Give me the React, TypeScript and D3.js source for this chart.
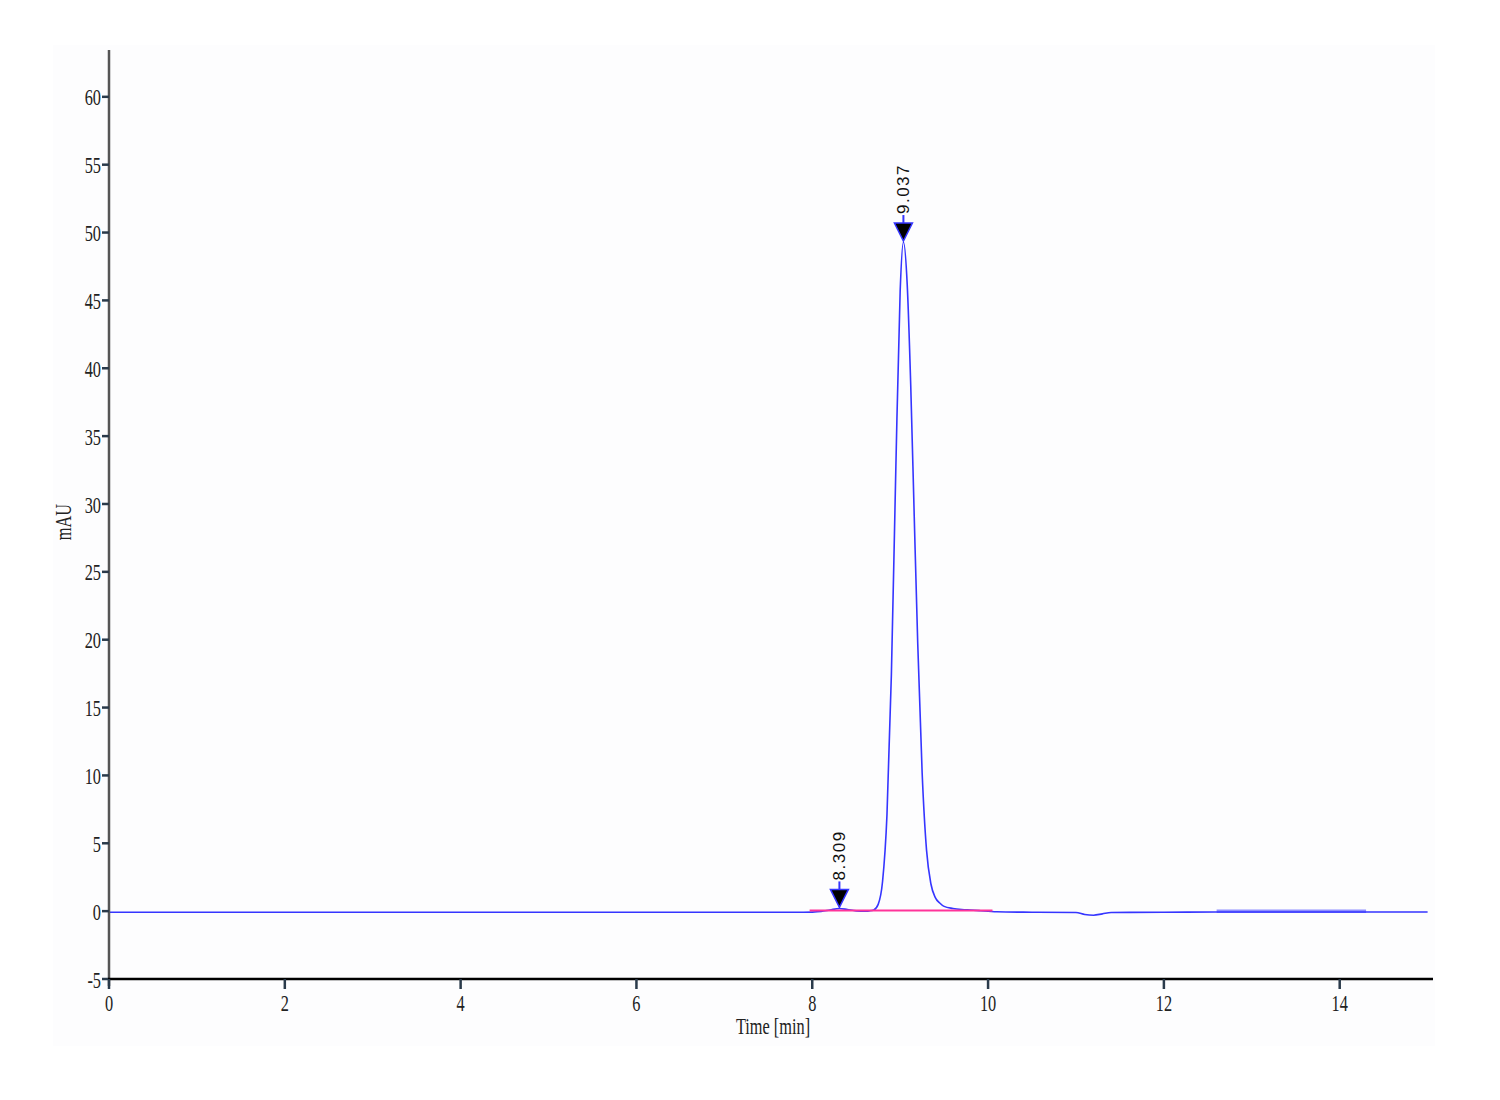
import React from "react";
import * as d3 from "d3";

const timeMin = [0, 2, 4, 6, 7.9, 8.0, 8.1, 8.2, 8.309, 8.4, 8.5, 8.6, 8.65, 8.7, 8.75, 8.8, 8.85, 8.9, 8.95, 9.0, 9.037, 9.08, 9.12, 9.16, 9.2, 9.25, 9.3, 9.35, 9.4, 9.45, 9.5, 9.6, 9.7, 9.8, 9.9, 10.0, 10.1, 10.5, 11.0, 11.1, 11.2, 11.3, 11.4, 12.0, 12.6, 15.0];
const signalMAU = [-0.08, -0.08, -0.08, -0.08, -0.08, -0.07, -0.03, 0.08, 0.2, 0.12, 0.02, 0.0, 0.02, 0.09, 0.5, 2.2, 7.1, 17.4, 32.4, 45.7, 49.3, 46.2, 38.8, 29.1, 19.7, 10.2, 4.5, 2.0, 1.0, 0.6, 0.35, 0.2, 0.12, 0.08, 0.04, 0.0, -0.05, -0.08, -0.1, -0.25, -0.3, -0.2, -0.1, -0.08, -0.06, -0.06];

const peakTimes = [8.309, 9.037];
const peakHeights = [0.2, 49.3];
const peakLabels = ["8.309", "9.037"];

const baselineTimes = [7.97, 10.05];
const baselineValues = [0.05, 0.05];

const noiseTimes = [12.6, 14.3];
const noiseValues = [0.0, 0.0];

const xTicks = [0, 2, 4, 6, 8, 10, 12, 14];
const yTicks = [-5, 0, 5, 10, 15, 20, 25, 30, 35, 40, 45, 50, 55, 60];

const serif = "'Liberation Serif', 'DejaVu Serif', serif";
const sans = "'Liberation Sans', 'DejaVu Sans', sans-serif";
const SX = 0.68;

export default function App() {
  const x = d3.scaleLinear().domain([0, 15.05]).range([109, 1432]);
  const y = d3.scaleLinear().domain([-5, 63.45]).range([979, 50]);

  const pts: [number, number][] = timeMin.map((t, i) => [t, signalMAU[i]]);
  const line = d3
    .line<[number, number]>()
    .x((d) => x(d[0]))
    .y((d) => y(d[1]))
    .curve(d3.curveMonotoneX);

  const basePts: [number, number][] = baselineTimes.map((t, i) => [t, baselineValues[i]]);
  const noisePts: [number, number][] = noiseTimes.map((t, i) => [t, noiseValues[i]]);
  const straight = d3
    .line<[number, number]>()
    .x((d) => x(d[0]))
    .y((d) => y(d[1]));

  const axisY = y(-5);

  return (
    <svg
      width={1500}
      height={1100}
      style={{ position: "absolute", left: 0, top: 0, display: "block", background: "#ffffff" }}
    >
      <rect x={53} y={45} width={1382} height={1001} fill="#fdfdfe" />

      {/* signal */}
      <path d={straight(noisePts) || ""} fill="none" stroke="#8f8fff" strokeWidth={3.5} />
      <path d={line(pts) || ""} fill="none" stroke="#3535ff" strokeWidth={1.6} />
      <path d={straight(basePts) || ""} fill="none" stroke="#ff3399" strokeWidth={2} />

      {/* peak markers */}
      {peakTimes.map((t, i) => {
        const px = x(t);
        const tip = y(peakHeights[i]) - 1;
        const top = tip - 18;
        return (
          <g key={i}>
            <line x1={px} x2={px} y1={top} y2={top - 8} stroke="#3535ff" strokeWidth={2} />
            <path
              d={`M${px - 9},${top} L${px + 9},${top} L${px},${tip} Z`}
              fill="#000"
              stroke="#3535ff"
              strokeWidth={1.5}
            />
            <text
              transform={`translate(${px + 6},${top - 9}) rotate(-90)`}
              fontFamily={sans}
              fontSize={17}
              letterSpacing={1.5}
              fill="#111"
            >
              {peakLabels[i]}
            </text>
          </g>
        );
      })}

      {/* y axis */}
      <line x1={109} x2={109} y1={50} y2={986} stroke="#555" strokeWidth={2.5} />
      {yTicks.map((v) => (
        <g key={v}>
          <line x1={102} x2={109} y1={y(v)} y2={y(v)} stroke="#2a3a4a" strokeWidth={2.5} />
          <text
            transform={`translate(101,${y(v)}) scale(${SX},1)`}
            dy="0.36em"
            textAnchor="end"
            fontFamily={serif}
            fontSize={24}
            fill="#222"
          >
            {v}
          </text>
        </g>
      ))}
      <text
        transform={`translate(71,522) rotate(-90) scale(${SX},1)`}
        textAnchor="middle"
        fontFamily={serif}
        fontSize={24}
        fill="#222"
      >
        mAU
      </text>

      {/* x axis */}
      <line x1={108} x2={1433} y1={axisY} y2={axisY} stroke="#000" strokeWidth={2.5} />
      {xTicks.map((v) => (
        <g key={v}>
          <line x1={x(v)} x2={x(v)} y1={axisY} y2={axisY + 10} stroke="#2a3a4a" strokeWidth={2.5} />
          <text
            transform={`translate(${x(v)},1011) scale(${SX},1)`}
            textAnchor="middle"
            fontFamily={serif}
            fontSize={24}
            fill="#222"
          >
            {v}
          </text>
        </g>
      ))}
      <text
        transform={`translate(773,1034) scale(${SX},1)`}
        textAnchor="middle"
        fontFamily={serif}
        fontSize={24}
        fill="#222"
      >
        Time [min]
      </text>
    </svg>
  );
}
